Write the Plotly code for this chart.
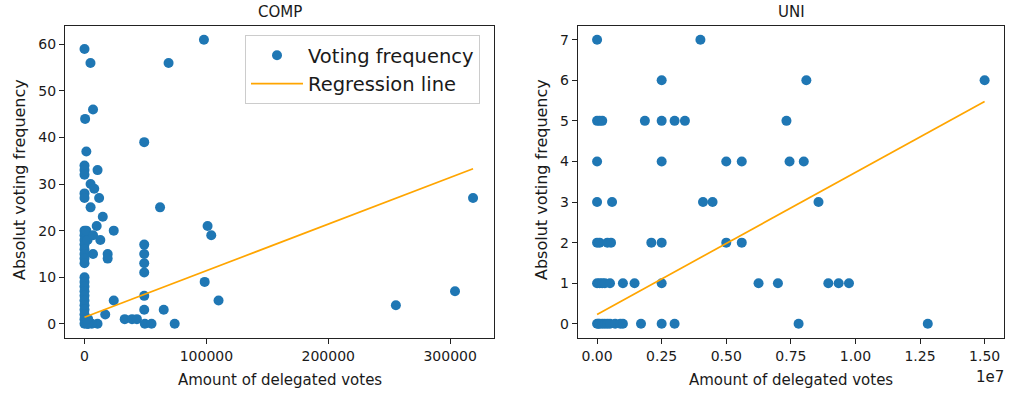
import plotly.graph_objects as go

# ---------------- data ----------------
comp_votes = [0, 500, 1500, 0, 0, 0, 0, 0, 0, 0, 0, 0, 0, 0, 0, 0,
              0, 0, 0, 0, 0, 0, 0, 0, 0, 0, 0,
              2000, 2500, 1500, 3000, 2000, 3000,
              4900, 7000, 10700, 5000, 8000, 12000, 5000, 15000, 10000, 24000,
              7000, 13000, 7000, 19000, 19000, 24000, 17000, 10700, 6000, 3000, 2000,
              33000, 39000, 43000,
              49000, 49000, 49000, 49000, 49000, 49000, 49000, 49500, 55000,
              62000, 65000, 69000, 74000, 98000, 98600, 101000, 104000, 110000,
              255500, 304000, 318800]
comp_freq = [59, 44, 37, 34, 33, 32, 28, 27, 20, 19, 18, 17, 16, 15, 14, 13,
             10, 9, 8, 7, 6, 5, 4, 3, 2, 1, 0,
             19, 18, 20, 1, 0, 0,
             56, 46, 33, 30, 29, 27, 25, 23, 21, 20,
             19, 18, 15, 15, 14, 5, 2, 0, 0, 0, 1,
             1, 1, 1,
             39, 17, 15, 13, 11, 6, 3, 0, 0,
             25, 3, 56, 0, 61, 9, 21, 19, 5,
             4, 7, 27]
comp_intercept = 1.4
comp_slope = 1.0e-4

uni_votes = [0, 4.0e6,
             2.5e6, 8.1e6, 15.0e6,
             0, 1.0e5, 2.0e5, 1.85e6, 2.5e6, 3.0e6, 3.4e6, 7.33e6,
             0, 2.5e6, 5.0e6, 5.6e6, 7.45e6, 8.0e6,
             0, 5.8e5, 4.1e6, 4.47e6, 8.57e6,
             0, 1.0e5, 4.0e5, 5.4e5, 2.1e6, 2.5e6, 5.0e6, 5.6e6,
             0, 1.0e5, 2.0e5, 3.0e5, 5.0e5, 1.0e6, 1.45e6, 2.5e6, 6.25e6, 7.0e6, 8.95e6, 9.35e6, 9.75e6,
             0, 5.0e4, 1.0e5, 2.0e5, 3.0e5, 4.0e5, 5.0e5, 7.0e5, 9.0e5, 1.0e6, 1.7e6, 2.5e6, 3.0e6, 7.8e6, 12.8e6]
uni_freq = [7, 7,
            6, 6, 6,
            5, 5, 5, 5, 5, 5, 5, 5,
            4, 4, 4, 4, 4, 4,
            3, 3, 3, 3, 3,
            2, 2, 2, 2, 2, 2, 2, 2,
            1, 1, 1, 1, 1, 1, 1, 1, 1, 1, 1, 1, 1,
            0, 0, 0, 0, 0, 0, 0, 0, 0, 0, 0, 0, 0, 0, 0]
uni_intercept = 0.23
uni_slope = 3.5e-7

comp_xticks = [0, 100000, 200000, 300000]
comp_yticks = [0, 10, 20, 30, 40, 50, 60]
uni_xticks = [0, 0.25e7, 0.5e7, 0.75e7, 1.0e7, 1.25e7, 1.5e7]
uni_xticklabels = ["0.00", "0.25", "0.50", "0.75", "1.00", "1.25", "1.50"]
uni_yticks = [0, 1, 2, 3, 4, 5, 6, 7]

# ---------------- figure ----------------
W, H = 1009, 394
BLUE = "#1f77b4"
ORANGE = "#FFA500"
FONT = "DejaVu Sans"
TXT = "#1a1a1a"

def px_x(p):
    return p / W

def px_y(p):
    return 1 - p / H

fig = go.Figure()

fig.add_trace(go.Scatter(x=comp_votes, y=comp_freq, mode="markers",
                         marker=dict(color=BLUE, size=10, line=dict(width=0)),
                         name="Voting frequency", xaxis="x", yaxis="y"))
cx = [min(comp_votes), max(comp_votes)]
fig.add_trace(go.Scatter(x=cx, y=[comp_intercept + comp_slope * v for v in cx], mode="lines",
                         line=dict(color=ORANGE, width=1.7),
                         name="Regression line", xaxis="x", yaxis="y"))

fig.add_trace(go.Scatter(x=uni_votes, y=uni_freq, mode="markers",
                         marker=dict(color=BLUE, size=10, line=dict(width=0)),
                         showlegend=False, xaxis="x2", yaxis="y2"))
ux = [min(uni_votes), max(uni_votes)]
fig.add_trace(go.Scatter(x=ux, y=[uni_intercept + uni_slope * v for v in ux], mode="lines",
                         line=dict(color=ORANGE, width=1.7),
                         showlegend=False, xaxis="x2", yaxis="y2"))

ax_common = dict(showline=True, mirror=True, linecolor="#222", linewidth=1,
                 ticks="outside", ticklen=5, tickwidth=1, tickcolor="#222",
                 showgrid=False, zeroline=False,
                 tickfont=dict(family=FONT, size=14, color=TXT))

ydom = [px_y(338), px_y(25.5)]
fig.update_layout(
    width=W, height=H,
    margin=dict(l=0, r=0, t=0, b=0),
    paper_bgcolor="white", plot_bgcolor="white",
    font=dict(family=FONT, color=TXT),
    xaxis=dict(domain=[px_x(65), px_x(494)], range=[-16000, 336000],
               tickvals=comp_xticks, tickformat="d", anchor="y", **ax_common),
    yaxis=dict(domain=ydom, range=[-3.05, 64.05], tickvals=comp_yticks, anchor="x", **ax_common),
    xaxis2=dict(domain=[px_x(577.7), px_x(1004)], range=[-0.075e7, 1.575e7],
                tickvals=uni_xticks, ticktext=uni_xticklabels, anchor="y2", **ax_common),
    yaxis2=dict(domain=ydom, range=[-0.35, 7.35], tickvals=uni_yticks, anchor="x2", **ax_common),
    legend=dict(x=px_x(245), y=px_y(35), xanchor="left", yanchor="top",
                bgcolor="rgba(255,255,255,0.8)", bordercolor="#cccccc", borderwidth=1,
                font=dict(family=FONT, size=19.5, color=TXT), tracegroupgap=0,
                itemwidth=52),
    showlegend=True,
)

annots = [
    dict(text="COMP", x=px_x(279.5), y=px_y(12), size=15, angle=0),
    dict(text="UNI", x=px_x(791), y=px_y(12), size=15, angle=0),
    dict(text="Amount of delegated votes", x=px_x(279.5), y=px_y(380), size=15, angle=0),
    dict(text="Amount of delegated votes", x=px_x(791), y=px_y(380), size=15, angle=0),
    dict(text="Absolut voting frequency", x=px_x(19), y=px_y(180), size=16, angle=-90),
    dict(text="Absolut voting frequency", x=px_x(541), y=px_y(180), size=16, angle=-90),
    dict(text="1e7", x=px_x(990), y=px_y(377), size=15, angle=0),
]
for a in annots:
    fig.add_annotation(text=a["text"], x=a["x"], y=a["y"], xref="paper", yref="paper",
                       showarrow=False, textangle=a["angle"], xanchor="center", yanchor="middle",
                       font=dict(family=FONT, size=a["size"], color=TXT))

fig.write_html("out.html", config={"displayModeBar": False},
               post_script="document.body.style.margin='0px';document.body.style.overflow='hidden';")
